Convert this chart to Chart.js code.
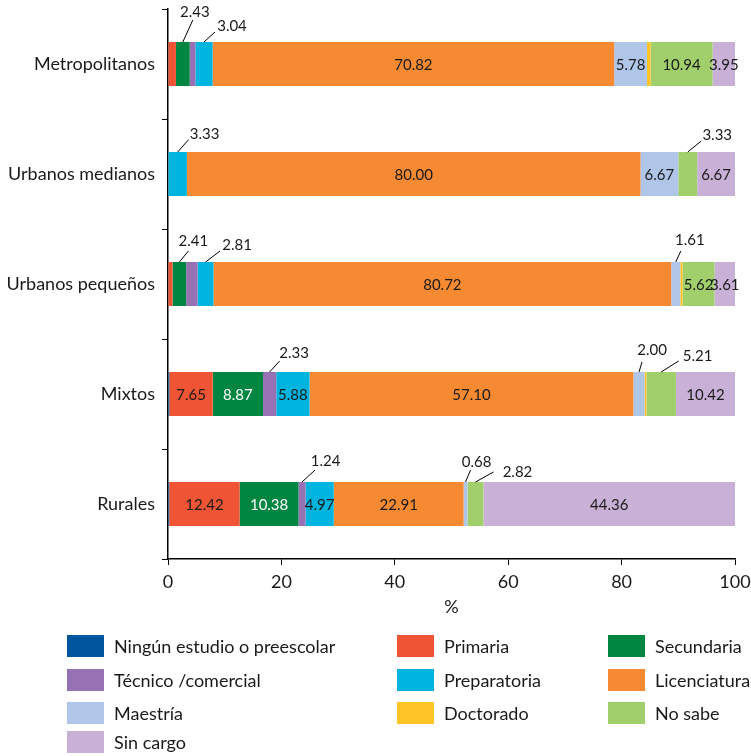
<!DOCTYPE html>
<html lang="es">
<head>
<meta charset="utf-8">
<title>Escolaridad por tipo de municipio</title>
<script src="https://cdn.jsdelivr.net/npm/chart.js@4/dist/chart.umd.min.js"></script>
<style>
  html, body { margin: 0; padding: 0; background: #fff; }
  #wrap { position: relative; width: 751px; height: 756px; }
</style>
</head>
<body>
<div id="wrap"><canvas id="chart" width="751" height="756"></canvas></div>
<script>
// Porcentajes por tipo de municipio y nivel de escolaridad
const categories = ['Metropolitanos', 'Urbanos medianos', 'Urbanos pequeños', 'Mixtos', 'Rurales'];
const ningunEstudio = [0, 0, 0, 0.24, 0.22];
const primaria      = [1.40, 0, 0.80, 7.65, 12.42];
const secundaria    = [2.43, 0, 2.41, 8.87, 10.38];
const tecnico       = [1.00, 0, 2.01, 2.33, 1.24];
const preparatoria  = [3.04, 3.33, 2.81, 5.88, 4.97];
const licenciatura  = [70.82, 80.00, 80.72, 57.10, 22.91];
const maestria      = [5.78, 6.67, 1.61, 2.00, 0.68];
const doctorado     = [0.64, 0, 0.40, 0.30, 0];
const noSabe        = [10.94, 3.33, 5.62, 5.21, 2.82];
const sinCargo      = [3.95, 6.67, 3.61, 10.42, 44.36];
const xTicks = [0, 20, 40, 60, 80, 100];

const FONT = 'Lato, "Open Sans", sans-serif';
const INK = '#1a1a1a';

const series = [
  { label: 'Ningún estudio o preescolar', data: ningunEstudio, color: '#00559f' },
  { label: 'Primaria',           data: primaria,     color: '#ef5535' },
  { label: 'Secundaria',         data: secundaria,   color: '#008641' },
  { label: 'Técnico /comercial', data: tecnico,      color: '#9671b4' },
  { label: 'Preparatoria',       data: preparatoria, color: '#00b4e0' },
  { label: 'Licenciatura',       data: licenciatura, color: '#f58a33' },
  { label: 'Maestría',           data: maestria,     color: '#afc6e8' },
  { label: 'Doctorado',          data: doctorado,    color: '#ffc425' },
  { label: 'No sabe',            data: noSabe,       color: '#a1cf6b' },
  { label: 'Sin cargo',          data: sinCargo,     color: '#c9b0d6' }
];

// Small segments labelled outside the bar with a leader line:
// line runs from the segment's top centre by (dx, dy); text centre sits at (lx, ly) from the line end.
const callouts = [
  { series: 'Secundaria',   cat: 0, dx: 10,   dy: -22,   lx: 2,    ly: -8 },
  { series: 'Preparatoria', cat: 0, dx: 11,   dy: -10,   lx: 17,   ly: -6 },
  { series: 'Preparatoria', cat: 1, dx: 11,   dy: -12.5, lx: 16,   ly: -5 },
  { series: 'No sabe',      cat: 1, dx: 13.5, dy: -11,   lx: 16,   ly: -6 },
  { series: 'Secundaria',   cat: 2, dx: 9,    dy: -11,   lx: 5,    ly: -10 },
  { series: 'Preparatoria', cat: 2, dx: 14.5, dy: -11,   lx: 17,   ly: -6 },
  { series: 'Maestría',     cat: 2, dx: 5,    dy: -11,   lx: 9,    ly: -11 },
  { series: 'Técnico /comercial', cat: 3, dx: 10, dy: -11, lx: 14.5, ly: -8 },
  { series: 'Maestría',     cat: 3, dx: 3,    dy: -10,   lx: 10,   ly: -12 },
  { series: 'No sabe',      cat: 3, dx: 17.5, dy: -11,   lx: 19,   ly: -5 },
  { series: 'Técnico /comercial', cat: 4, dx: 13, dy: -12, lx: 10.5, ly: -9 },
  { series: 'Maestría',     cat: 4, dx: 5,    dy: -12,   lx: 6,    ly: -8 },
  { series: 'No sabe',      cat: 4, dx: 18,   dy: -10,   lx: 24,   ly: 0 }
];

const valueLabels = {
  id: 'valueLabels',
  afterDatasetsDraw(chart) {
    const ctx = chart.ctx;
    ctx.save();
    ctx.font = '15px ' + FONT;
    ctx.textAlign = 'center';
    ctx.textBaseline = 'middle';
    chart.data.datasets.forEach((ds, i) => {
      const meta = chart.getDatasetMeta(i);
      meta.data.forEach((bar, j) => {
        const v = ds.data[j];
        if (!v) return;
        const cx = (bar.x + bar.base) / 2;
        const co = callouts.find(c => c.series === ds.label && c.cat === j);
        if (co) {
          const top = bar.y - bar.height / 2;
          const ex = cx + co.dx, ey = top + co.dy;
          ctx.strokeStyle = '#000';
          ctx.lineWidth = 1;
          ctx.beginPath();
          ctx.moveTo(cx, top);
          ctx.lineTo(ex, ey);
          ctx.stroke();
          ctx.fillStyle = INK;
          ctx.fillText(v.toFixed(2), ex + co.lx, ey + co.ly);
        } else if (v >= 3.5) {
          ctx.fillStyle = ds.label === 'Secundaria' ? '#ffffff' : INK;
          ctx.fillText(v.toFixed(2), cx, bar.y + 1);
        }
      });
    });
    ctx.restore();
  }
};

// Three-column legend under the axis
const gridLegend = {
  id: 'gridLegend',
  afterDraw(chart) {
    const ctx = chart.ctx;
    const colBox = [67, 397, 608];
    const colText = [114, 444, 655];
    const rowY = [646, 680, 713, 742];
    ctx.save();
    ctx.font = '18px ' + FONT;
    ctx.textAlign = 'left';
    ctx.textBaseline = 'middle';
    chart.data.datasets.forEach((ds, i) => {
      const r = Math.floor(i / 3), c = i % 3;
      ctx.fillStyle = ds.backgroundColor;
      ctx.fillRect(colBox[c], rowY[r] - 11, 37, 22);
      ctx.fillStyle = INK;
      ctx.fillText(ds.label, colText[c], rowY[r] + 1);
    });
    ctx.restore();
  }
};

new Chart(document.getElementById('chart'), {
  type: 'bar',
  data: {
    labels: categories,
    datasets: series.map(s => ({
      label: s.label,
      data: s.data,
      backgroundColor: s.color,
      borderWidth: 0,
      barPercentage: 0.4,
      categoryPercentage: 1
    }))
  },
  options: {
    indexAxis: 'y',
    responsive: false,
    animation: false,
    devicePixelRatio: 1,
    layout: { padding: { left: 0, right: 16, top: 9, bottom: 136 } },
    plugins: { legend: { display: false }, tooltip: { enabled: false } },
    scales: {
      x: {
        stacked: true,
        min: 0,
        max: 100,
        afterBuildTicks: s => { s.ticks = xTicks.map(v => ({ value: v })); },
        afterFit: s => { s.height = 61; s.paddingLeft = 0; s.paddingRight = 0; },
        ticks: { font: { family: FONT, size: 18 }, color: INK, padding: 6 },
        grid: { drawOnChartArea: false, drawTicks: true, tickLength: 6, color: '#000', lineWidth: 1 },
        border: { display: true, color: '#000', width: 1.5 },
        title: { display: true, text: '%', font: { family: FONT, size: 18 }, color: INK, padding: { top: 0, bottom: 2 } }
      },
      y: {
        stacked: true,
        afterFit: s => { s.width = 168; s.paddingTop = 0; s.paddingBottom = 0; },
        ticks: { font: { family: FONT, size: 18 }, color: INK, padding: 7 },
        grid: { offset: true, drawOnChartArea: false, drawTicks: true, tickLength: 6, color: '#000', lineWidth: 1 },
        border: { display: true, color: '#000', width: 1.5 }
      }
    }
  },
  plugins: [valueLabels, gridLegend]
});
</script>
</body>
</html>
